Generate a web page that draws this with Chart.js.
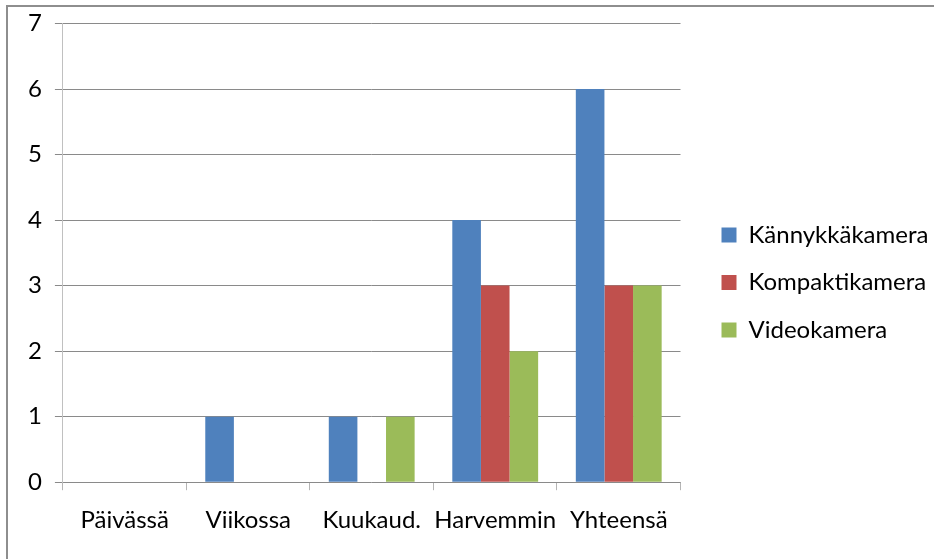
<!DOCTYPE html>
<html>
<head>
<meta charset="utf-8">
<script src="https://cdn.jsdelivr.net/npm/chart.js@4.4.1/dist/chart.umd.min.js"></script>
<style>
    body { margin: 0; background: #fff; overflow: hidden; }
    #wrap { position: relative; width: 934px; height: 559px; }
    #frame { position: absolute; left: 6px; top: 5px; width: 940px; height: 570px;
             border-left: 2px solid #8e8e8e; border-top: 2px solid #8e8e8e; }
</style>
</head>
<body>
<div id="wrap">
    <div id="frame"></div>
    <canvas id="chart"></canvas>
</div>
<script>
var categories = ['Päivässä', 'Viikossa', 'Kuukaud.', 'Harvemmin', 'Yhteensä'];
var kannykkaValues = [0, 1, 1, 4, 6];
var kompaktiValues = [0, 0, 0, 3, 3];
var videoValues = [0, 0, 1, 2, 3];
var yTicks = [0, 1, 2, 3, 4, 5, 6, 7];

var font = "Lato, 'Open Sans', sans-serif";

function makeDataset(label, data, color) {
    return {
        label: label,
        data: data,
        backgroundColor: color,
        borderWidth: 0,
        categoryPercentage: 0.695,
        barPercentage: 1.0
    };
}

document.addEventListener("DOMContentLoaded", () => {
    var ctx = document.getElementById('chart');
    new Chart(ctx, {
        type: 'bar',
        data: {
            labels: categories,
            datasets: [
                makeDataset('Kännykkäkamera', kannykkaValues, '#4F81BD'),
                makeDataset('Kompaktikamera', kompaktiValues, '#C0504D'),
                makeDataset('Videokamera', videoValues, '#9BBB59')
            ]
        },
        options: {
            responsive: true,
            maintainAspectRatio: false,
            animation: false,
            layout: { padding: { left: 15, top: 14, bottom: 8, right: 5 } },
            plugins: {
                tooltip: { enabled: false },
                legend: {
                    position: 'right',
                    maxWidth: 231,
                    labels: {
                        boxWidth: 15,
                        boxHeight: 15,
                        padding: 23.5,
                        color: '#000',
                        font: { family: font, size: 24 }
                    }
                }
            },
            scales: {
                x: {
                    grid: { drawOnChartArea: false, drawTicks: true, tickLength: 8, color: '#b5b5b5' },
                    border: { display: false },
                    ticks: {
                        color: '#000',
                        padding: 16,
                        maxRotation: 0,
                        autoSkip: false,
                        font: { family: font, size: 24 }
                    }
                },
                y: {
                    min: 0,
                    max: 7,
                    afterBuildTicks: axis => { axis.ticks = yTicks.map(v => ({ value: v })); },
                    afterFit: axis => { axis.paddingTop = 23.5; }, // plot top sits at y=23.5
                    grid: { color: '#8a8a8a', tickLength: 8 },
                    border: { color: '#c0c0c0' },
                    ticks: { color: '#000', padding: 13, font: { family: font, size: 24 } }
                },
                // empty axis only used to keep a gap between the plot and the legend
                spacer: {
                    position: 'right',
                    display: true,
                    grid: { display: false },
                    border: { display: false },
                    ticks: { display: false },
                    afterFit: axis => { axis.width = 17.5; }
                }
            }
        }
    });
});
</script>
</body>
</html>
